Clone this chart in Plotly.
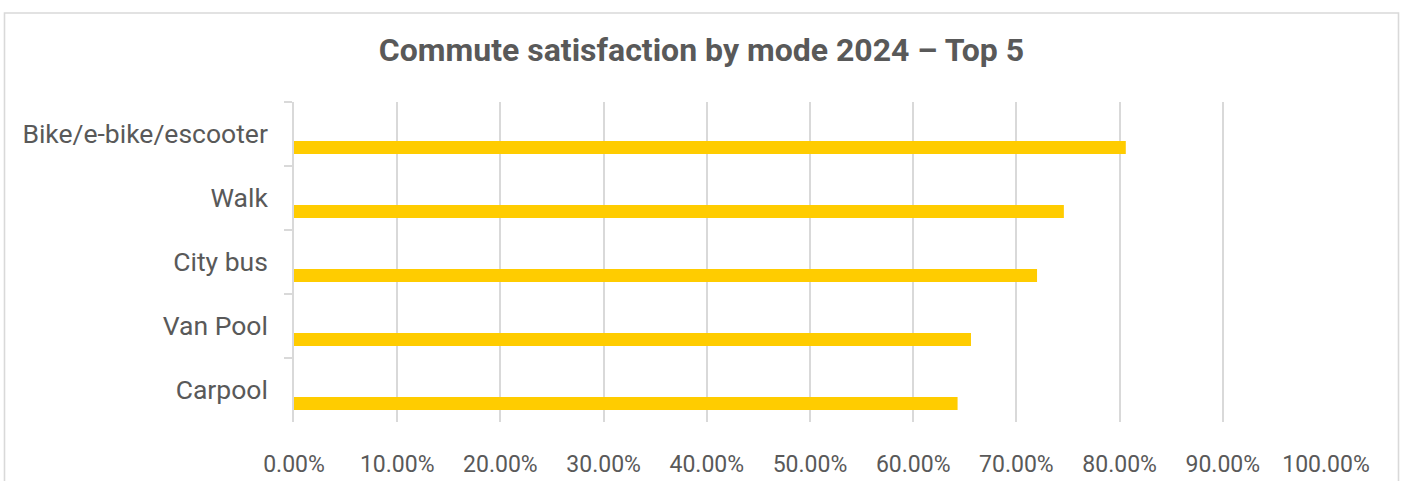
import plotly.graph_objects as go

categories = ["Bike/e-bike/escooter", "Walk", "City bus", "Van Pool", "Carpool"]
satisfaction = [0.806, 0.746, 0.720, 0.656, 0.643]
x_ticks = [0.0, 0.1, 0.2, 0.3, 0.4, 0.5, 0.6, 0.7, 0.8, 0.9, 1.0]
title_text = "Commute satisfaction by mode 2024 \u2013 Top 5"

W, H = 1403, 481
ML, MR, MT, MB = 294, 77, 102, 59
PW, PH = W - ML - MR, H - MT - MB

TEXT = "#595959"
GRID = "#d9d9d9"

fig = go.Figure()
fig.add_trace(go.Bar(
    y=categories,
    x=satisfaction,
    orientation="h",
    marker=dict(color="#FFCC00", line=dict(width=0)),
    width=0.203,
    offset=0.109,
    hoverinfo="x+y",
))

def px_to_paper_x(px):
    return (px - ML) / PW

def px_to_paper_y(py):
    return (H - MB - py) / PH

fig.update_layout(
    width=W, height=H,
    autosize=False,
    margin=dict(l=ML, r=MR, t=MT, b=MB, pad=0, autoexpand=False),
    paper_bgcolor="white",
    plot_bgcolor="white",
    showlegend=False,
    font=dict(family="Roboto, sans-serif", color=TEXT),
    title=dict(
        text=title_text,
        font=dict(family="Roboto, sans-serif", size=32, color=TEXT, weight="bold"),
        x=0.5, xref="container", xanchor="center",
        y=1 - 50 / H, yref="container", yanchor="middle",
    ),
    xaxis=dict(
        range=[0, 1],
        tickvals=x_ticks,
        tickformat=".2%",
        showgrid=True, gridcolor=GRID, gridwidth=1.6,
        zeroline=False,
        showline=False,
        ticks="",
        tickfont=dict(family="Roboto, sans-serif", size=23, color=TEXT),
        ticklabelstandoff=26,
        automargin=False,
        fixedrange=True,
    ),
    yaxis=dict(
        type="category",
        categoryorder="array",
        categoryarray=categories,
        range=[len(categories) - 0.5, -0.5],
        showgrid=False,
        zeroline=False,
        showline=True, linecolor=GRID, linewidth=1.6,
        ticks="outside", ticklen=8, tickcolor=GRID, tickwidth=1.6,
        tickson="boundaries",
        tickfont=dict(family="Roboto, sans-serif", size=26.5, color=TEXT),
        ticklabelstandoff=19,
        automargin=False,
        fixedrange=True,
    ),
    shapes=[dict(
        type="rect", xref="paper", yref="paper",
        x0=px_to_paper_x(4.5), x1=px_to_paper_x(1398.5),
        y0=px_to_paper_y(H + 10), y1=px_to_paper_y(13),
        line=dict(color=GRID, width=1.6),
        fillcolor="rgba(0,0,0,0)",
        layer="below",
    )],
)

fig.write_html(
    "out.html",
    config={"displayModeBar": False},
    post_script="document.body.style.margin='0';document.body.style.overflow='hidden';",
)
